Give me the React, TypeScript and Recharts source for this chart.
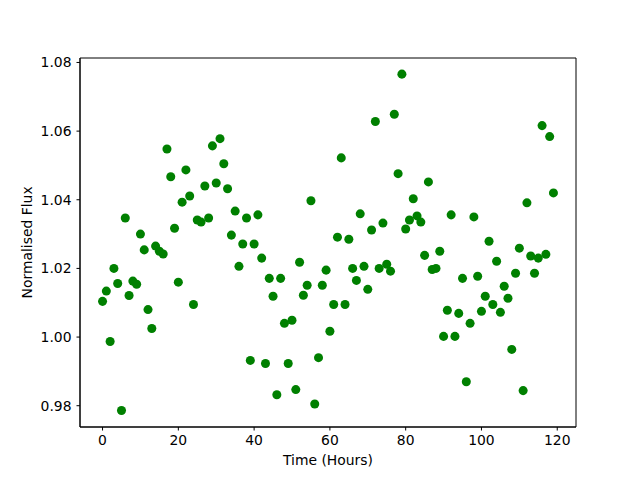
import { ReferenceArea, Scatter, ScatterChart, XAxis, YAxis, ZAxis } from "recharts";

const hours = [
  0, 1, 2, 3, 4, 5, 6, 7, 8, 9, 10, 11, 12, 13, 14, 15, 16, 17, 18, 19,
  20, 21, 22, 23, 24, 25, 26, 27, 28, 29, 30, 31, 32, 33, 34, 35, 36, 37, 38, 39,
  40, 41, 42, 43, 44, 45, 46, 47, 48, 49, 50, 51, 52, 53, 54, 55, 56, 57, 58, 59,
  60, 61, 62, 63, 64, 65, 66, 67, 68, 69, 70, 71, 72, 73, 74, 75, 76, 77, 78, 79,
  80, 81, 82, 83, 84, 85, 86, 87, 88, 89, 90, 91, 92, 93, 94, 95, 96, 97, 98, 99,
  100, 101, 102, 103, 104, 105, 106, 107, 108, 109, 110, 111, 112, 113, 114, 115, 116, 117, 118, 119,
];

const flux = [
  1.0104, 1.0134, 0.9987, 1.02, 1.0156, 0.9786, 1.0347, 1.0121, 1.0163, 1.0154,
  1.03, 1.0254, 1.008, 1.0025, 1.0265, 1.025, 1.0242, 1.0548, 1.0467, 1.0317,
  1.016, 1.0393, 1.0487, 1.0411, 1.0095, 1.0341, 1.0335, 1.044, 1.0347, 1.0557,
  1.0449, 1.0578, 1.0505, 1.0432, 1.0297, 1.0367, 1.0206, 1.0271, 1.0347, 0.9932,
  1.0271, 1.0356, 1.023, 0.9923, 1.0171, 1.0119, 0.9832, 1.0171, 1.004, 0.9923,
  1.0049, 0.9847, 1.0218, 1.0122, 1.0151, 1.0397, 0.9805, 0.994, 1.0151, 1.0195,
  1.0017, 1.0095, 1.0291, 1.0522, 1.0095, 1.0285, 1.02, 1.0165, 1.0359, 1.0206,
  1.0139, 1.0312, 1.0628, 1.02, 1.0332, 1.0212, 1.0192, 1.0649, 1.0476, 1.0766,
  1.0315, 1.0341, 1.0403, 1.0353, 1.0335, 1.0238, 1.0452, 1.0197, 1.02, 1.025,
  1.0002, 1.0078, 1.0356, 1.0002, 1.0069, 1.0171, 0.987, 1.004, 1.035, 1.0177,
  1.0075, 1.0119, 1.0279, 1.0095, 1.0221, 1.0072, 1.0148, 1.0113, 0.9964, 1.0186,
  1.0259, 0.9844, 1.0391, 1.0236, 1.0186, 1.023, 1.0616, 1.0241, 1.0584, 1.042,
];

const xTicks = [0, 20, 40, 60, 80, 100, 120];
const yTicks = [0.98, 1.0, 1.02, 1.04, 1.06, 1.08];

const points = hours.map((h, i) => ({ hour: h, flux: flux[i] }));

const X_DOMAIN: [number, number] = [-5.95, 124.95];
const Y_DOMAIN: [number, number] = [0.9738, 1.0813];
const FONT = "DejaVu Sans, sans-serif";
const tickStyle = { fill: "#000", fontSize: 13.9, fontFamily: FONT };

export default function App() {
  return (
    <div style={{ position: "absolute", left: 0, top: 0, width: 640, height: 480, background: "#fff" }}>
      <ScatterChart width={640} height={480} margin={{ top: 58, right: 64, bottom: 0, left: 0 }}>
        <XAxis
          type="number"
          dataKey="hour"
          domain={X_DOMAIN}
          ticks={xTicks}
          allowDataOverflow
          height={53}
          tickSize={3.5}
          tickMargin={5}
          stroke="#000"
          tick={tickStyle}
          label={{ value: "Time (Hours)", position: "insideBottom", offset: 15, fill: "#000", fontSize: 13.9, fontFamily: FONT }}
        />
        <YAxis
          type="number"
          dataKey="flux"
          domain={Y_DOMAIN}
          ticks={yTicks}
          allowDataOverflow
          width={80}
          tickSize={3.5}
          tickMargin={5}
          stroke="#000"
          tick={tickStyle}
          tickFormatter={(v: number) => v.toFixed(2)}
          label={{
            content: () => (
              <text
                x={32}
                y={242.4}
                transform="rotate(-90 32 242.4)"
                textAnchor="middle"
                fill="#000"
                fontSize={13.9}
                fontFamily={FONT}
              >
                Normalised Flux
              </text>
            ),
          }}
        />
        <ZAxis range={[74, 74]} />
        <ReferenceArea
          x1={X_DOMAIN[0]}
          x2={X_DOMAIN[1]}
          y1={Y_DOMAIN[0]}
          y2={Y_DOMAIN[1]}
          fill="none"
          stroke="#000"
          strokeWidth={1}
        />
        <Scatter data={points} fill="#008000" isAnimationActive={false} />
      </ScatterChart>
    </div>
  );
}
